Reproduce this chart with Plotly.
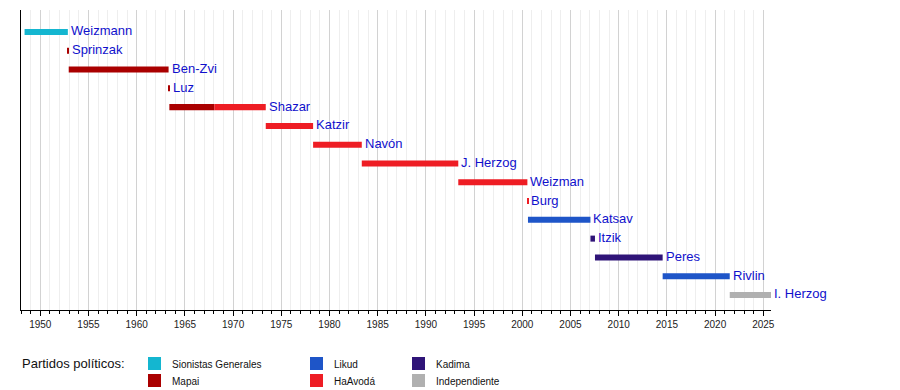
import plotly.graph_objects as go

# ---- data ----
presidents = ["Weizmann", "Sprinzak", "Ben-Zvi", "Luz", "Shazar", "Katzir", "Navón",
              "J. Herzog", "Weizman", "Burg", "Katsav", "Itzik", "Peres", "Rivlin", "I. Herzog"]

# term segments (row index, start, end, party)
seg_row = [0, 1, 2, 3, 4, 4, 5, 6, 7, 8, 9, 10, 11, 12, 13, 14]
seg_start = [1948.37, 1952.86, 1952.95, 1963.31, 1963.39, 1968.05, 1973.39, 1978.30, 1983.35,
             1993.36, 2000.53, 2000.59, 2007.07, 2007.54, 2014.56, 2021.52]
seg_end = [1952.86, 1952.98, 1963.31, 1963.42, 1968.05, 1973.39, 1978.30, 1983.35, 1993.36,
           2000.53, 2000.62, 2007.07, 2007.54, 2014.56, 2021.52, 2025.80]
seg_party = ["Sionistas Generales", "Mapai", "Mapai", "Mapai", "Mapai", "HaAvodá", "HaAvodá",
             "HaAvodá", "HaAvodá", "HaAvodá", "HaAvodá", "Likud", "Kadima", "Kadima", "Likud",
             "Independiente"]

parties = ["Sionistas Generales", "Mapai", "Likud", "HaAvodá", "Kadima", "Independiente"]
party_colors = ["#14b6d0", "#aa0000", "#1e55c8", "#ee1d24", "#2f1478", "#b0b0b0"]

axis_start, axis_end = 1948, 2025.8
tick_years = list(range(1950, 2026, 5))

FONT = "Liberation Sans, Arial, Helvetica, sans-serif"

# page body has an 8px margin; figure is sized to fill the rest of the window
OFF = 8
FW, FH = 900 - OFF, 390 - OFF
L, T, W, H = 21 - OFF, 10 - OFF, 750, 300

fig = go.Figure()

for p, c in zip(parties, party_colors):
    idx = [i for i, sp in enumerate(seg_party) if sp == p]
    fig.add_trace(go.Bar(
        orientation="h",
        y=[seg_row[i] for i in idx],
        base=[seg_start[i] for i in idx],
        x=[seg_end[i] - seg_start[i] for i in idx],
        width=0.32,
        marker=dict(color=c, line=dict(width=0)),
        showlegend=False,
        hoverinfo="skip",
    ))

# labels at the end of each term
for r, name in enumerate(presidents):
    end = max(seg_end[i] for i in range(len(seg_row)) if seg_row[i] == r)
    fig.add_annotation(x=end, y=r, text=name, xanchor="left", yanchor="middle",
                       xshift=1, yshift=1, showarrow=False,
                       font=dict(family=FONT, size=13, color="#1010cc"))

# legend (custom layout), positions given in window pixels
def px(x):
    return (x - OFF - L) / W
def py(y):
    return (T + H - (y - OFF)) / H

fig.add_annotation(x=px(20), y=py(363), xref="paper", yref="paper", text="Partidos políticos:",
                   xanchor="left", yanchor="middle", showarrow=False,
                   font=dict(family=FONT, size=13, color="#111"))
leg_pos = [(148, 363.5), (148, 380.5), (310, 363.5), (310, 380.5), (412, 363.5), (412, 380.5)]
for (lx, ly), p, c in zip(leg_pos, parties, party_colors):
    fig.add_shape(type="rect", xref="paper", yref="paper",
                  x0=px(lx), x1=px(lx + 13), y0=py(ly - 6.5), y1=py(ly + 6.5),
                  fillcolor=c, line=dict(width=0))
    fig.add_annotation(x=px(lx + 22), y=py(ly + 1), xref="paper", yref="paper", text=p,
                       xanchor="left", yanchor="middle", showarrow=False,
                       font=dict(family=FONT, size=10, color="#111"))

fig.update_layout(
    width=FW, height=FH,
    margin=dict(l=L, r=FW - L - W, t=T, b=FH - T - H, autoexpand=False),
    paper_bgcolor="white", plot_bgcolor="white",
    barmode="overlay",
    showlegend=False,
    font=dict(family=FONT, size=10, color="#222"),
    xaxis=dict(
        range=[axis_start, axis_end],
        tickmode="array", tickvals=tick_years, ticktext=[str(y) for y in tick_years],
        showgrid=True, gridcolor="#d2d2d2", gridwidth=1,
        ticks="outside", ticklen=5, tickcolor="black", tickwidth=1,
        showline=True, linecolor="black", linewidth=1,
        zeroline=False,
        tickfont=dict(family=FONT, size=10, color="#222"),
        minor=dict(dtick=1, tick0=1948, showgrid=True, gridcolor="#eeeeee",
                   ticks="outside", ticklen=3, tickcolor="black"),
    ),
    yaxis=dict(
        range=[14.8, -1.17],
        showgrid=False, zeroline=False, showticklabels=False,
        showline=True, linecolor="black", linewidth=1, ticks="",
    ),
)

fig.write_html("out.html")
